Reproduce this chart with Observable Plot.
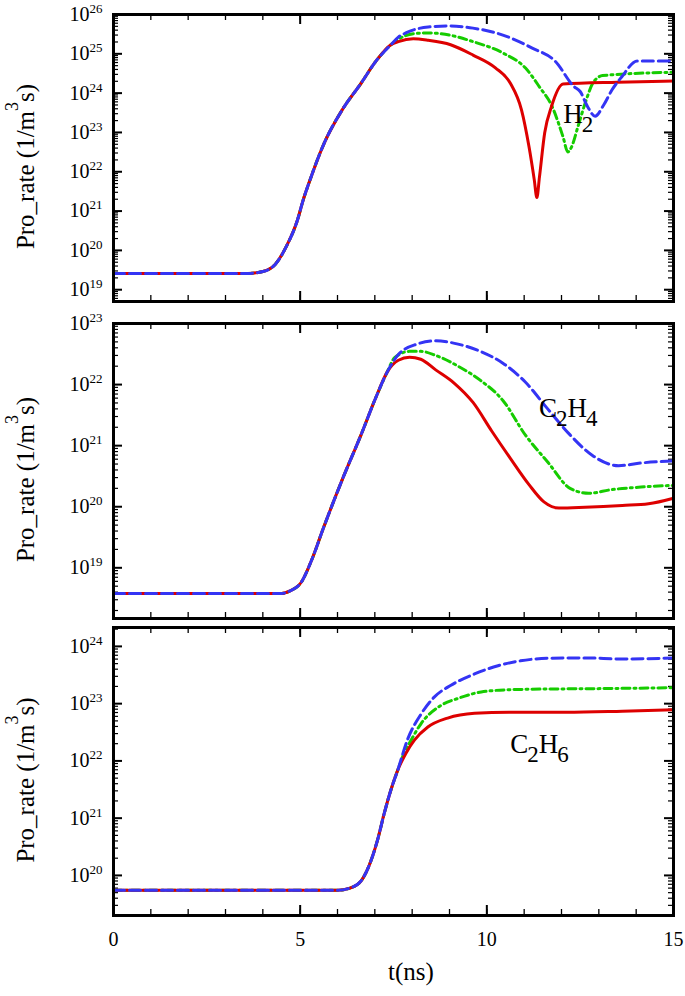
<!DOCTYPE html>
<html><head><meta charset="utf-8">
<script src="https://cdn.jsdelivr.net/npm/d3@7"></script>
<script src="https://cdn.jsdelivr.net/npm/@observablehq/plot@0.6"></script>
<style>
body{margin:0;background:#fff;}
#chart{position:relative;width:685px;height:996px;font-family:"Liberation Serif","Times New Roman",serif;}
#chart svg{position:absolute;left:0;overflow:visible;}
</style></head><body><div id="chart"></div>
<script>
// ---------- data (t in ns, production rate in 1/(m^3 s)) ----------
const xMajor = [0, 5, 10, 15];
const xMinor = [0,1,2,3,4,5,6,7,8,9,10,11,12,13,14,15];

// H2 panel
const h2RiseT = [0, 3.6, 4.0, 4.33, 4.63, 4.93, 5.08, 5.23, 5.63, 6.13, 6.63, 7.03, 7.43];
const h2RiseV = [2.6e19, 2.6e19, 2.9e19, 4.4e19, 1.26e20, 6.0e20, 1.9e21, 5.0e21, 5.0e22, 3.8e23, 1.78e24, 6.5e24, 1.7e25];
const h2SolidT = [7.63, 8.03, 8.43, 9.03, 9.63, 10.23, 10.63, 10.93, 11.13, 11.27, 11.34, 11.41, 11.55, 11.73, 12.04, 13.5, 15];
const h2SolidV = [2.04e25, 2.4e25, 2.2e25, 1.7e25, 9.3e24, 4.4e24, 1.78e24, 3.7e23, 4.3e22, 6.3e21, 2.2e21, 7.4e21, 9.8e22, 4.5e23, 1.7e24, 1.9e24, 2.04e24];
const h2DashDotT = [7.63, 8.03, 8.43, 9.03, 9.63, 10.43, 11.03, 11.43, 11.73, 12.04, 12.17, 12.27, 12.44, 12.66, 12.84, 13.1, 15];
const h2DashDotV = [2.35e25, 3.24e25, 3.4e25, 2.95e25, 2.04e25, 1.05e25, 4.4e24, 1.35e24, 5.0e23, 7.8e22, 3.2e22, 4.3e22, 1.4e23, 6.6e23, 1.8e24, 2.8e24, 3.4e24];
const h2DashT = [7.63, 7.83, 8.43, 9.03, 9.63, 10.43, 11.23, 11.83, 12.33, 12.5, 12.7, 12.9, 13.13, 13.35, 13.6, 14.03, 15];
const h2DashV = [2.65e25, 3.4e25, 4.8e25, 5.1e25, 4.5e25, 3.0e25, 1.38e25, 6.5e24, 1.48e24, 1.1e24, 4.5e23, 2.6e23, 5.0e23, 1.2e24, 2.5e24, 6.6e24, 6.6e24];

// C2H4 panel
const c2h4RiseT = [0, 4.5, 4.73, 5.03, 5.33, 5.63, 6.13, 6.63, 7.03, 7.33];
const c2h4RiseV = [3.8e18, 3.8e18, 4.2e18, 5.8e18, 1.45e19, 4.6e19, 2.8e20, 1.5e21, 6.2e21, 1.6e22];
const c2h4SolidT = [7.63, 7.93, 8.23, 8.63, 9.13, 9.63, 10.13, 10.63, 11.13, 11.53, 11.93, 12.63, 13.63, 14.33, 15];
const c2h4SolidV = [2.5e22, 2.8e22, 2.6e22, 1.74e22, 1.05e22, 5.1e21, 1.74e21, 6.2e20, 2.3e20, 1.2e20, 9.5e19, 9.8e19, 1.05e20, 1.12e20, 1.38e20];
const c2h4DashDotT = [7.53, 7.93, 8.23, 8.63, 9.23, 9.83, 10.43, 11.03, 11.63, 12.23, 12.73, 13.33, 14.13, 15];
const c2h4DashDotV = [2.75e22, 3.5e22, 3.5e22, 3.0e22, 2.0e22, 1.17e22, 5.5e21, 1.5e21, 5.4e20, 2.0e20, 1.66e20, 1.9e20, 2.1e20, 2.24e20];
const c2h4DashT = [7.63, 8.13, 8.63, 9.23, 9.83, 10.43, 11.03, 11.63, 12.23, 12.83, 13.53, 14.13, 15];
const c2h4DashV = [3.1e22, 4.6e22, 5.2e22, 4.6e22, 3.5e22, 2.24e22, 1.1e22, 4.0e21, 1.5e21, 6.9e20, 4.7e20, 5.2e20, 5.6e20];

// C2H6 panel
const c2h6RiseT = [0, 6.0, 6.33, 6.63, 6.83, 7.07, 7.25, 7.43, 7.61];
const c2h6RiseV = [5.5e19, 5.5e19, 6.0e19, 8.0e19, 1.4e20, 4.1e20, 1.2e21, 3.1e21, 6.8e21];
const c2h6SolidT = [7.83, 8.06, 8.42, 8.95, 9.67, 10.6, 12.13, 13.63, 15];
const c2h6SolidV = [1.35e22, 2.3e22, 3.9e22, 5.6e22, 6.8e22, 7.1e22, 7.1e22, 7.4e22, 7.8e22];
const c2h6DashDotT = [7.8, 7.97, 8.24, 8.77, 9.22, 9.85, 10.6, 11.6, 12.63, 15];
const c2h6DashDotV = [1.45e22, 2.3e22, 4.5e22, 9.3e22, 1.23e23, 1.6e23, 1.75e23, 1.8e23, 1.82e23, 1.9e23];
const c2h6DashT = [7.88, 8.24, 8.59, 9.04, 9.67, 10.3, 10.9, 11.63, 12.63, 13.63, 15];
const c2h6DashV = [2.4e22, 6.6e22, 1.3e23, 2.1e23, 3.3e23, 4.6e23, 5.6e23, 6.2e23, 6.3e23, 6.0e23, 6.3e23];

// species labels (text, t, value)
const speciesText = ["H_2", "C_2H_4", "C_2H_6"];
const speciesT = [12.05, 11.40, 10.63];
const speciesV = [1.74e23, 3.0e21, 1.35e22];

const yDomains = [[Math.pow(10, 18.7), 1e26], [Math.pow(10, 18.17), 1e23], [Math.pow(10, 19.3), Math.pow(10, 24.33)]];
const yLabel = ["Pro_rate (1/m", "3", "s)"];
const xLabel = "t(ns)";

// ---------- helpers ----------
const zip = (T, V) => T.map((t, i) => ({t, v: V[i]}));
function minorLog([lo, hi]) {
  const out = [];
  for (let e = Math.floor(Math.log10(lo)); e <= Math.ceil(Math.log10(hi)); e++)
    for (let k = 2; k <= 9; k++) { const v = k * Math.pow(10, e); if (v > lo && v < hi) out.push(v); }
  return out;
}
function majorLog([lo, hi]) {
  const out = [];
  for (let e = Math.ceil(Math.log10(lo) - 1e-9); e <= Math.floor(Math.log10(hi) + 1e-9); e++) out.push(Math.pow(10, e));
  return out;
}

const W = 685, ML = 113, MR = 12;
const panels = [
  {rise: [h2RiseT, h2RiseV], solid: [h2SolidT, h2SolidV], dashdot: [h2DashDotT, h2DashDotV], dash: [h2DashT, h2DashV],
   top: 0, height: 312, mt: 14, mb: 11, lab: 0, showX: false},
  {rise: [c2h4RiseT, c2h4RiseV], solid: [c2h4SolidT, c2h4SolidV], dashdot: [c2h4DashDotT, c2h4DashDotV], dash: [c2h4DashT, c2h4DashV],
   top: 310, height: 310, mt: 13, mb: 2, lab: 1, showX: false},
  {rise: [c2h6RiseT, c2h6RiseV], solid: [c2h6SolidT, c2h6SolidV], dashdot: [c2h6DashDotT, c2h6DashDotV], dash: [c2h6DashT, c2h6DashV],
   top: 620, height: 376, mt: 7, mb: 81, lab: 2, showX: true}
];

const RED = "#dd0000", GREEN = "#16cc00", BLUE = "#3434f4";
const chart = document.getElementById("chart");

panels.forEach((p, idx) => {
  const yDomain = yDomains[idx];
  const plotH = p.height - p.mt - p.mb;
  const plotW = W - ML - MR;
  const rise = zip(...p.rise);
  const solid = rise.concat(zip(...p.solid));
  const dashdot = rise.concat(zip(...p.dashdot));
  const dash = rise.concat(zip(...p.dash));
  const yMaj = majorLog(yDomain), yMin = minorLog(yDomain);
  const lab = [{t: speciesT[p.lab], v: speciesV[p.lab], text: speciesText[p.lab]}];
  const marks = [
    // ticks, inward on all four sides
    Plot.ruleX(xMinor, {x: d => d, insetTop: plotH - 6, strokeWidth: 1.3}),
    Plot.ruleX(xMajor, {x: d => d, insetTop: plotH - 10, strokeWidth: 2}),
    Plot.ruleX(xMinor, {x: d => d, insetBottom: plotH - 6, strokeWidth: 1.3}),
    Plot.ruleX(xMajor, {x: d => d, insetBottom: plotH - 10, strokeWidth: 2}),
    Plot.ruleY(yMin, {y: d => d, insetRight: plotW - 5, strokeWidth: 1.2}),
    Plot.ruleY(yMaj, {y: d => d, insetRight: plotW - 9, strokeWidth: 2}),
    Plot.ruleY(yMin, {y: d => d, insetLeft: plotW - 5, strokeWidth: 1.2}),
    Plot.ruleY(yMaj, {y: d => d, insetLeft: plotW - 9, strokeWidth: 2}),
    Plot.axisY({ticks: yMaj, tickSize: 0, tickPadding: 11, tickFormat: d => "10^" + Math.round(Math.log10(d)), fontSize: 20, label: null}),
    Plot.line(dashdot, {x: "t", y: "v", stroke: GREEN, strokeWidth: 3, strokeDasharray: "8,4,2,4", curve: "monotone-x"}),
    Plot.line(solid, {x: "t", y: "v", stroke: RED, strokeWidth: 3, curve: "monotone-x"}),
    Plot.line(dash, {x: "t", y: "v", stroke: BLUE, strokeWidth: 3, strokeDasharray: "11,5", curve: "monotone-x"}),
    Plot.text(lab, {x: "t", y: "v", text: "text", textAnchor: "start", lineAnchor: "bottom", fontSize: 27, fill: "black"}),
    Plot.frame({stroke: "black", strokeWidth: 3})
  ];
  if (p.showX) marks.push(Plot.axisX({ticks: xMajor, tickSize: 0, tickPadding: 16, fontSize: 20, label: null}));
  const svg = Plot.plot({
    width: W, height: p.height,
    marginLeft: ML, marginRight: MR, marginTop: p.mt, marginBottom: p.mb,
    style: {fontFamily: '"Liberation Serif", "Times New Roman", serif', background: "transparent", color: "black", overflow: "visible"},
    x: {domain: [0, 15], axis: p.showX ? undefined : null},
    y: {type: "log", domain: yDomain},
    marks
  });
  svg.style.top = p.top + "px";
  chart.appendChild(svg);
  const s = d3.select(svg);
  // superscripts in tick labels
  s.selectAll('g[aria-label="y-axis tick label"] text').each(function () {
    const m = this.textContent.match(/^(.*)\^(.*)$/);
    if (!m) return;
    this.textContent = "";
    const t = d3.select(this);
    t.append("tspan").text(m[1]);
    t.append("tspan").attr("dy", "-8").style("font-size", "13px").text(m[2]);
  });
  // subscripts in species labels
  s.selectAll('g[aria-label="text"] text').each(function () {
    const parts = this.textContent.split(/(_\d)/).filter(x => x.length);
    this.textContent = "";
    const t = d3.select(this);
    let down = false;
    parts.forEach(part => {
      if (part[0] === "_") {
        t.append("tspan").attr("dy", down ? 0 : 9).attr("dx", -1).style("font-size", "23px").text(part.slice(1));
        down = true;
      } else {
        t.append("tspan").attr("dy", down ? -9 : 0).text(part);
        down = false;
      }
    });
  });
  // y-axis title
  const cy = p.mt + plotH / 2 + 9;
  const yt = s.append("text").attr("transform", `translate(34,${cy}) rotate(-90)`)
    .attr("text-anchor", "middle").style("font-size", "25px").attr("fill", "black");
  yt.append("tspan").text(yLabel[0]);
  yt.append("tspan").attr("dy", -16).style("font-size", "18px").text(yLabel[1]);
  yt.append("tspan").attr("dy", 16).text(yLabel[2]);
  if (p.showX) {
    s.append("text").attr("x", 411).attr("y", p.height - p.mb + 65)
      .attr("text-anchor", "middle").style("font-size", "25px").attr("fill", "black").text(xLabel);
  }
});
</script></body></html>
